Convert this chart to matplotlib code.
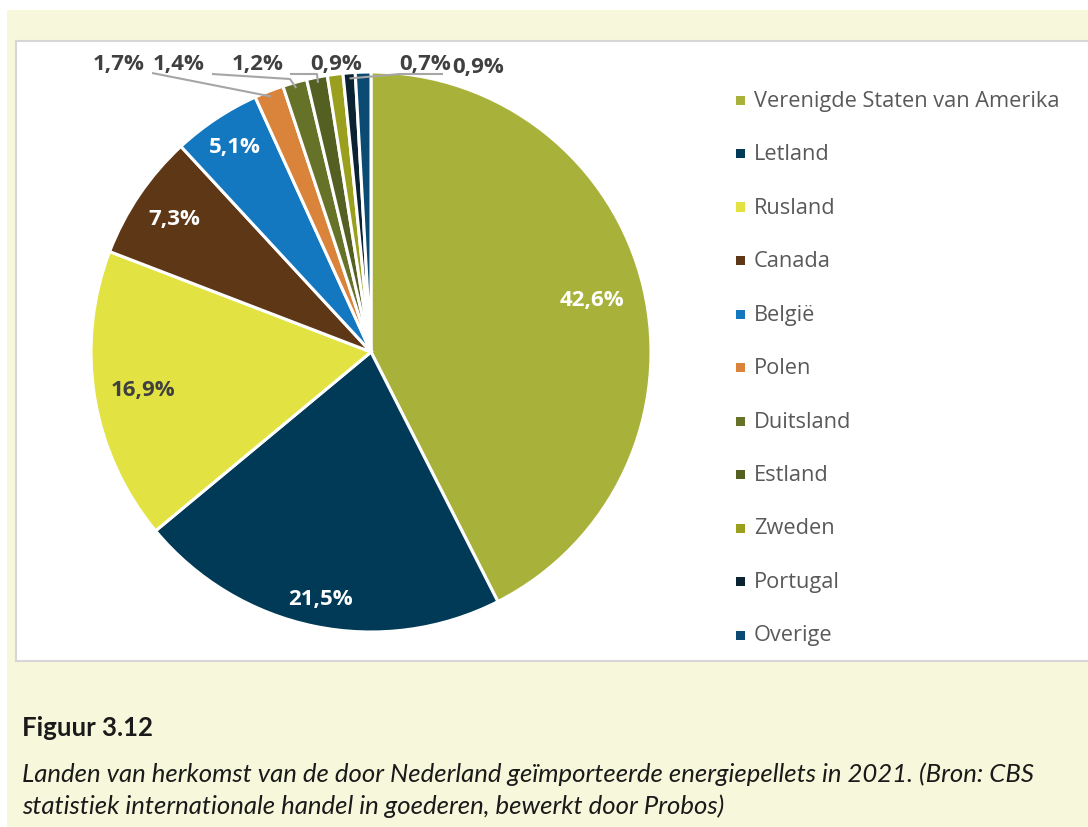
import numpy as np
import matplotlib
matplotlib.use("Agg")
import matplotlib.pyplot as plt
from matplotlib.patches import Rectangle

# data
landen = ["Verenigde Staten van Amerika", "Letland", "Rusland", "Canada", "België",
          "Polen", "Duitsland", "Estland", "Zweden", "Portugal", "Overige"]
aandeel = [42.6, 21.5, 16.9, 7.3, 5.1, 1.7, 1.4, 1.2, 0.9, 0.7, 0.9]
kleuren = ["#A8B23A", "#003A57", "#E2E342", "#5E3716", "#1478C1", "#D9843A",
           "#657228", "#545F22", "#9AA01E", "#0B2233", "#0B4A72"]
label_tekst = ["42,6%", "21,5%", "16,9%", "7,3%", "5,1%", "1,7%", "1,4%",
               "1,2%", "0,9%", "0,7%", "0,9%"]

W, H = 1088, 828
fig = plt.figure(figsize=(W / 100, H / 100), dpi=100)
fig.patch.set_facecolor("white")

# achtergrond (crème) en wit grafiekvlak
fig.patches.append(Rectangle((7 / W, 0), 1, 1 - 11 / H, transform=fig.transFigure,
                             facecolor="#F7F7DC", edgecolor="none", zorder=-3))
fig.patches.append(Rectangle((16 / W, 1 - 662 / H), 1.1, (662 - 42) / H,
                             transform=fig.transFigure, facecolor="white",
                             edgecolor="#D6D6D6", linewidth=1.5, zorder=-2))

# pie: middelpunt (371, 353) px, straal 280 px
cx, cy, r = 371, 353, 280
half = 310
ax = fig.add_axes([(cx - half) / W, 1 - (cy + half) / H, 2 * half / W, 2 * half / H])
ax.set_aspect("equal")
ax.axis("off")
ax.set_zorder(2)

wedges, _ = ax.pie(aandeel, colors=kleuren, startangle=90, counterclock=False,
                   radius=1.0, wedgeprops=dict(edgecolor="white", linewidth=2.2))
ax.set_xlim(-half / r, half / r)
ax.set_ylim(-half / r, half / r)

tekstkleur = "#404040"
fontfam = ["Open Sans", "DejaVu Sans"]
caption_fam = ["Lato", "DejaVu Sans"]

# labels binnen de grote segmenten
binnen_r = [0.81, 0.90, 0.825, 0.85, 0.88]
binnen_kleur = ["white", "white", tekstkleur, "white", "white"]
for i in range(5):
    w = wedges[i]
    ang = np.deg2rad((w.theta1 + w.theta2) / 2)
    ax.text(binnen_r[i] * np.cos(ang), binnen_r[i] * np.sin(ang), label_tekst[i],
            ha="center", va="center", fontsize=16, fontweight="bold",
            color=binnen_kleur[i], family=fontfam)

# labels buiten voor de kleine segmenten (plaats in px)
buiten_x = [119, 179, 258, 336, 425, 478]
buiten_y = [64, 64, 64, 64, 64, 67]
lijn_start = [(152, 74), (212, 75), (290, 75), None, (443, 75), None]
lijn_knik = [None, (290, 80), (317, 75), None, (400, 75), None]
for k, i in enumerate(range(5, 11)):
    tx = (buiten_x[k] - cx) / r
    ty = (cy - buiten_y[k]) / r
    ax.text(tx, ty, label_tekst[i], ha="center", va="center", fontsize=16,
            fontweight="bold", color=tekstkleur, family=fontfam)
    if lijn_start[k] is None:
        continue
    w = wedges[i]
    ang = np.deg2rad((w.theta1 + w.theta2) / 2)
    pts = [((lijn_start[k][0] - cx) / r, (cy - lijn_start[k][1]) / r)]
    if lijn_knik[k] is not None:
        pts.append(((lijn_knik[k][0] - cx) / r, (cy - lijn_knik[k][1]) / r))
    pts.append((0.98 * np.cos(ang), 0.98 * np.sin(ang)))
    xs, ys = zip(*pts)
    ax.plot(xs, ys, color="#A6A6A6", linewidth=1.5, solid_capstyle="butt")

# legenda
for i, naam in enumerate(landen):
    ypx = 101 + i * 53.5
    fig.patches.append(Rectangle((736 / W, 1 - (ypx + 4.5) / H), 9 / W, 9 / H,
                                 transform=fig.transFigure, facecolor=kleuren[i],
                                 edgecolor="none"))
    fig.text(754 / W, 1 - ypx / H, naam, ha="left", va="center", fontsize=15.7,
             color="#595959", family=fontfam)

# onderschrift
fig.text(22 / W, 1 - 728 / H, "Figuur 3.12", ha="left", va="center", fontsize=18.5,
         fontweight="bold", color="#1A1A1A", family=caption_fam)
fig.text(22 / W, 1 - 774 / H,
         "Landen van herkomst van de door Nederland geïmporteerde energiepellets in 2021. (Bron: CBS",
         ha="left", va="center", fontsize=18.5, style="italic", color="#1A1A1A",
         family=caption_fam)
fig.text(22 / W, 1 - 806 / H,
         "statistiek internationale handel in goederen, bewerkt door Probos)",
         ha="left", va="center", fontsize=18.5, style="italic", color="#1A1A1A",
         family=caption_fam)

fig.savefig("out.png", dpi=100)
